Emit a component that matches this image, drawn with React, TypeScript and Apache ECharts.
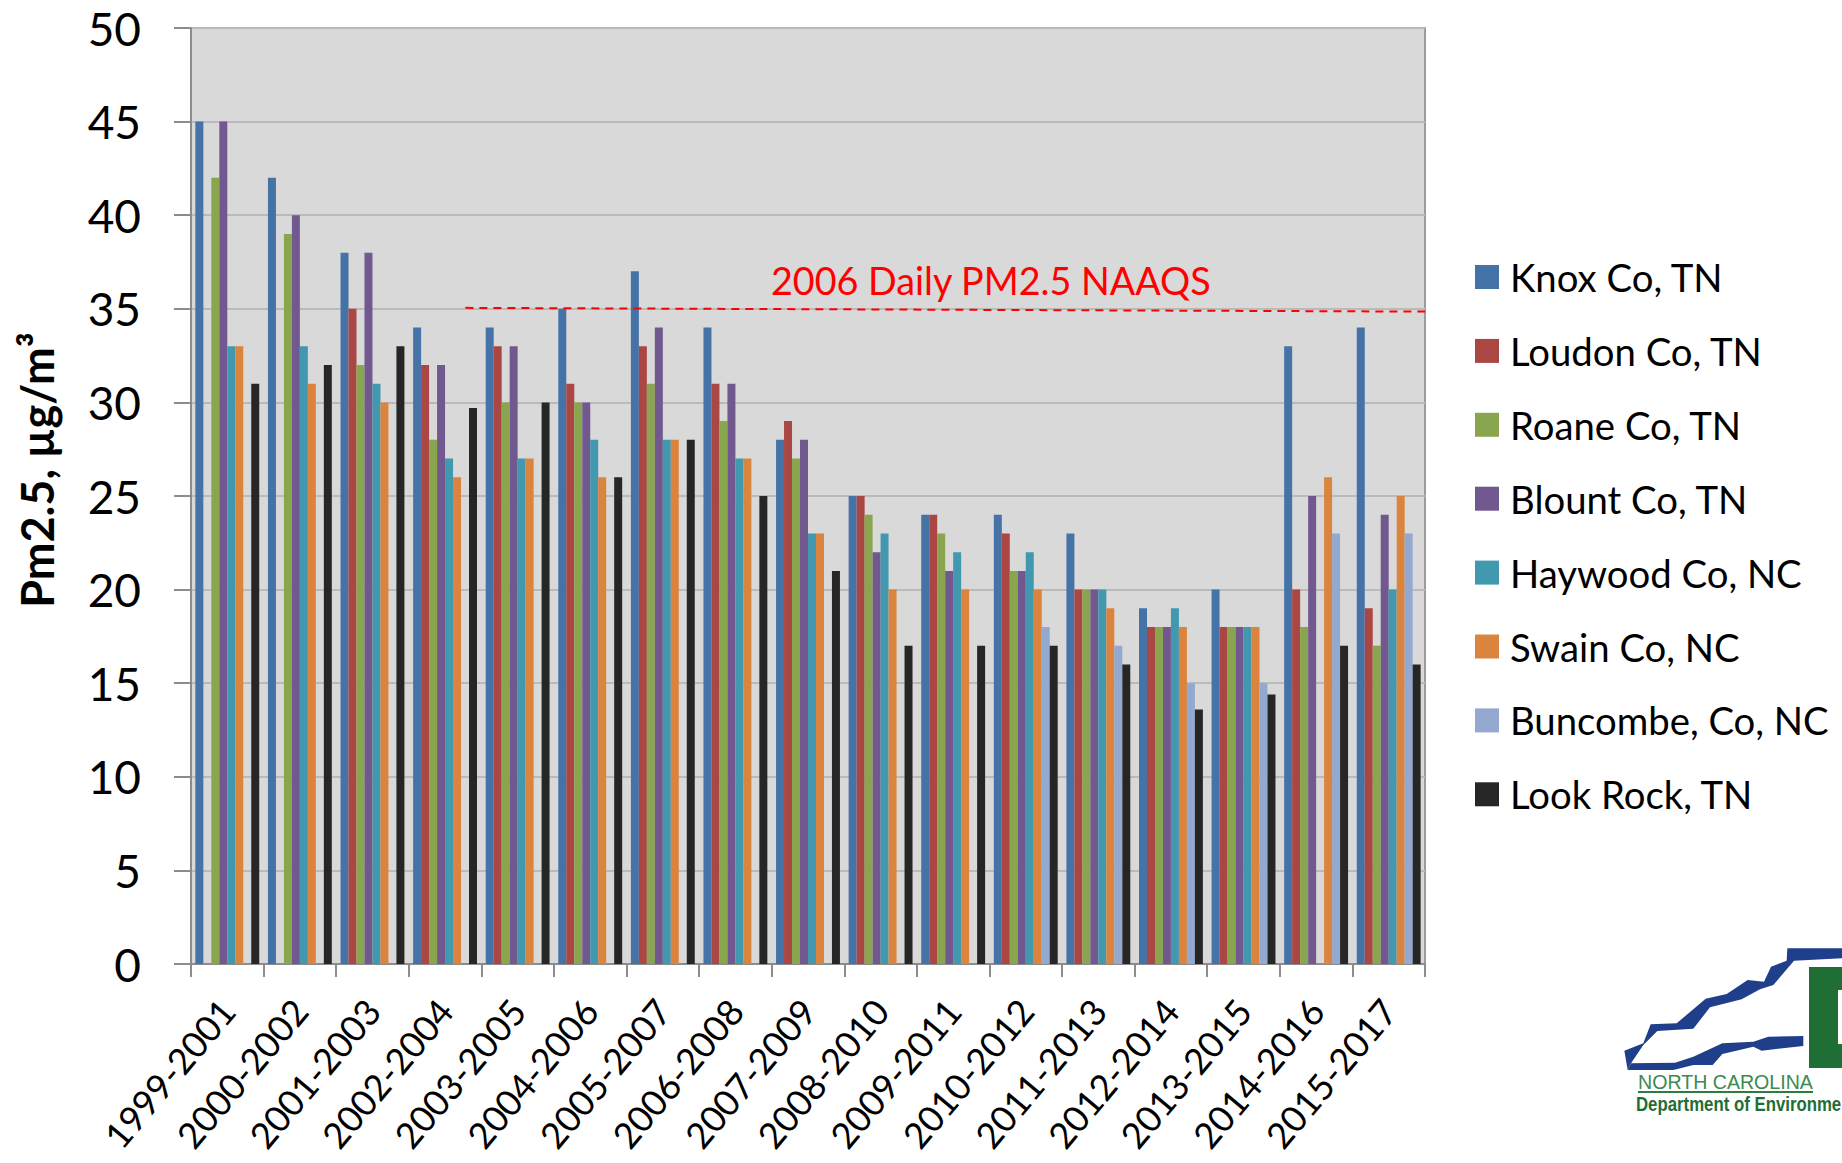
import React, { useEffect, useRef } from "react";
import * as echarts from "echarts";

const categories = ["1999-2001","2000-2002","2001-2003","2002-2004","2003-2005","2004-2006","2005-2007","2006-2008","2007-2009","2008-2010","2009-2011","2010-2012","2011-2013","2012-2014","2013-2015","2014-2016","2015-2017"];
const knox = [45,42,38,34,34,35,37,34,28,25,24,24,23,19,20,33,34];
const loudon = [null,null,35,32,33,31,33,31,29,25,24,23,20,18,18,20,19];
const roane = [42,39,32,28,30,30,31,29,27,24,23,21,20,18,18,18,17];
const blount = [45,40,38,32,33,30,34,31,28,22,21,21,20,18,18,25,24];
const haywood = [33,33,31,27,27,28,28,27,23,23,22,22,20,19,18,null,20];
const swain = [33,31,30,26,27,26,28,27,23,20,20,20,19,18,18,26,25];
const buncombe = [null,null,null,null,null,null,null,null,null,null,null,18,17,15,15,23,23];
const lookRock = [31,32,33,29.7,30,26,28,25,21,17,17,17,16,13.6,14.4,17,16];
const seriesNames = ["Knox Co, TN","Loudon Co, TN","Roane Co, TN","Blount Co, TN","Haywood Co, NC","Swain Co, NC","Buncombe, Co, NC","Look Rock, TN"];
const seriesValues = [knox,loudon,roane,blount,haywood,swain,buncombe,lookRock];
const seriesColors = ["#4572A7","#AA4643","#89A54E","#71588F","#4198AF","#DB843D","#93A9CF","#262626"];
const naaqsLine = [[3.78,35.05],[17,34.85]];
const FONT = "Lato, 'Open Sans', sans-serif";

const logoUpper = [[193,452],[250,430],[272,373],[350,370],[437,296],[500,282],[563,240],[612,245],[633,200],[680,182],[682,145],[846,145],[846,175],[702,182],[640,255],[600,268],[545,298],[450,322],[400,386],[292,393],[250,435],[213,490],[203,510]];
const logoLower = [[203,510],[213,490],[345,488],[400,470],[487,430],[580,425],[625,410],[730,408],[730,438],[605,452],[580,440],[487,462],[458,495],[400,495],[340,510]];
const logoPoint = (p: number[]) => [p[0] / 3 + 1560, p[1] / 3 + 900];

function App() {
  const ref = useRef<HTMLDivElement>(null);
  useEffect(() => {
    document.body.style.margin = "0";
    const chart = echarts.init(ref.current!, null, { renderer: "svg" });
    chart.setOption({
      animation: false,
      backgroundColor: "#fff",
      grid: { left: 191, top: 28, width: 1234, height: 936, outerBoundsMode: "none", backgroundColor: "#D9D9D9", show: true, borderWidth: 2, borderColor: "#9c9c9c" },
      legend: {
        orient: "vertical", left: 1475, top: 258, padding: 0, itemWidth: 24, itemHeight: 24, itemGap: 35.9,
        icon: "rect",
        textStyle: { fontFamily: FONT, fontSize: 38.3, color: "#000", padding: [0,0,0,6] },
        data: seriesNames,
      },
      xAxis: [
        {
          type: "category", data: categories,
          axisLine: { show: true, lineStyle: { color: "#8c8c8c", width: 2 } },
          axisTick: { show: true, length: 13, lineStyle: { color: "#8c8c8c", width: 2 } },
          axisLabel: { rotate: 50, interval: 0, margin: 40, fontFamily: FONT, fontSize: 36, color: "#000" },
        },
        { type: "value", min: 0, max: 17, show: false },
      ],
      yAxis: {
        type: "value", min: 0, max: 50, interval: 5,
        name: "Pm2.5, µg/m³", nameLocation: "middle", nameGap: 132, nameRotate: 90,
        nameTextStyle: { fontFamily: FONT, fontSize: 45, fontWeight: "bold", color: "#000", padding: [0,0,0,52] },
        axisLine: { show: true, lineStyle: { color: "#8c8c8c", width: 2 } },
        axisTick: { show: true, length: 17, lineStyle: { color: "#8c8c8c", width: 2 } },
        axisLabel: { margin: 50, fontFamily: FONT, fontSize: 46, color: "#000" },
        splitLine: { show: true, lineStyle: { color: "#BABABA", width: 2 } },
      },
      series: [
        ...seriesNames.map((name, i) => ({
          name, type: "bar", xAxisIndex: 0, data: seriesValues[i],
          barGap: "0%", barCategoryGap: "12%",
          itemStyle: { color: seriesColors[i] },
        })),
        {
          type: "line", xAxisIndex: 1, data: naaqsLine, symbol: "none", silent: true,
          lineStyle: { color: "#FF0000", width: 2, type: [8, 6] }, z: 5,
        },
      ],
      graphic: [
        { type: "text", left: 771, top: 261, style: { text: "2006 Daily PM2.5 NAAQS", fill: "#FF0000", font: `37.7px ${FONT}` } },
        { type: "polygon", shape: { points: logoUpper.map(logoPoint) }, style: { fill: "#1F3F8A" } },
        { type: "polygon", shape: { points: logoLower.map(logoPoint) }, style: { fill: "#1F3F8A" } },
        { type: "rect", shape: { x: 1809, y: 967, width: 33, height: 101 }, style: { fill: "#1F6E36" } },
        { type: "rect", shape: { x: 1838, y: 990, width: 4, height: 54 }, style: { fill: "#fff" } },
        { type: "text", left: 1638, top: 1072, style: { text: "NORTH CAROLINA", fill: "#3B8A50", font: "19.6px 'Liberation Sans', sans-serif" } },
        { type: "rect", shape: { x: 1638, y: 1091, width: 175, height: 2 }, style: { fill: "#2E7D3E" } },
        { type: "text", x: 1636, y: 1094, scaleX: 0.84, style: { text: "Department of Environme", fill: "#1F6E36", font: "bold 20px 'Liberation Sans', sans-serif" } },
      ],
    });
    return () => chart.dispose();
  }, []);
  return <div ref={ref} style={{ position: "absolute", left: 0, top: 0, width: 1842, height: 1163, overflow: "hidden" }} />;
}

export default App;
